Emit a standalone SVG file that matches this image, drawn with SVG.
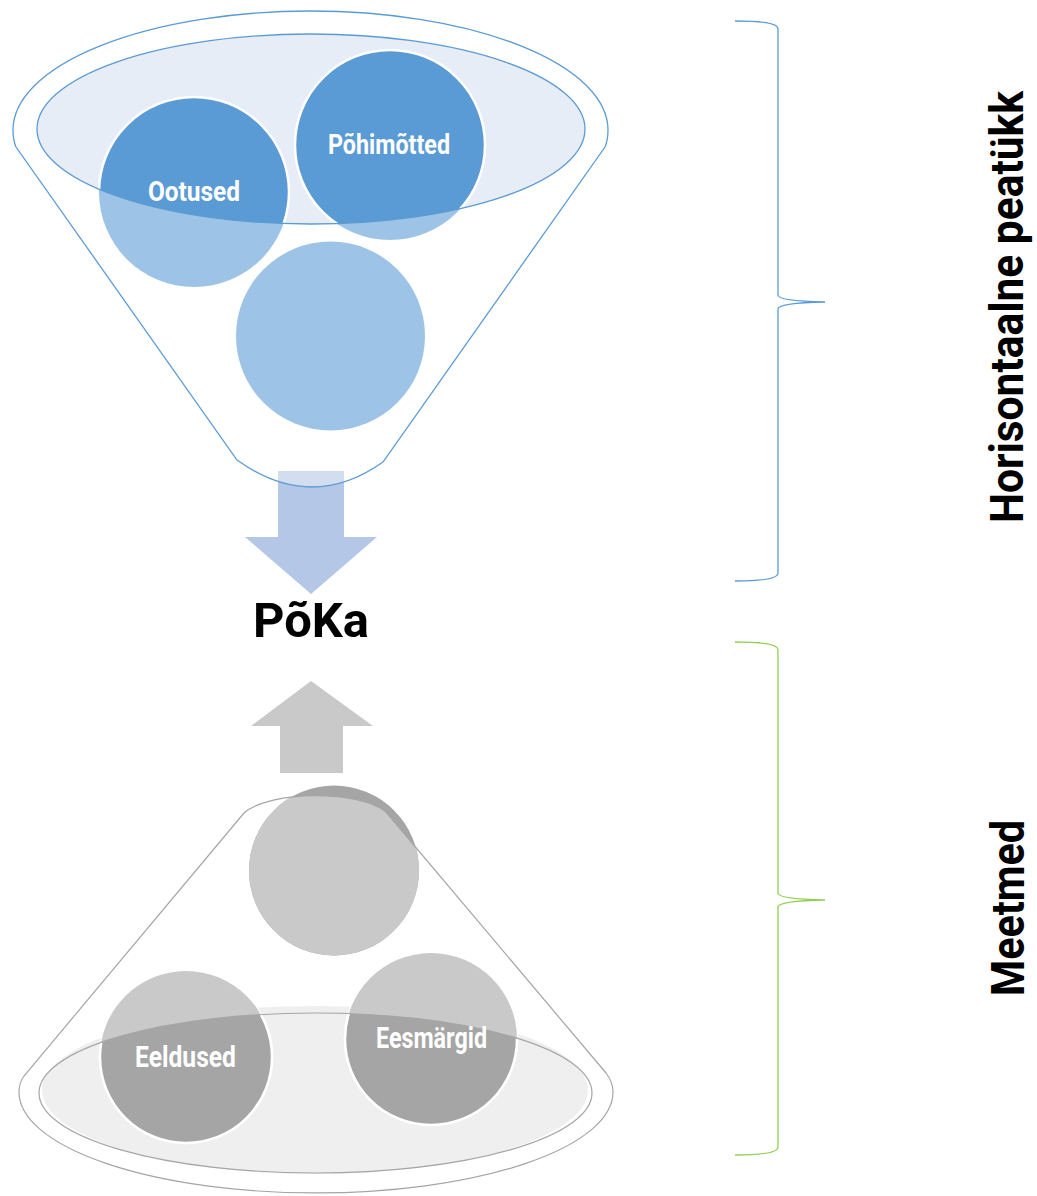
<svg xmlns="http://www.w3.org/2000/svg" width="1037" height="1196" viewBox="0 0 1037 1196">
<style>
.lbl{font-family:"Roboto","Liberation Sans",sans-serif;font-weight:700;fill:#ffffff;text-anchor:middle;}
.big{font-family:"Roboto","Liberation Sans",sans-serif;font-weight:700;fill:#000000;text-anchor:middle;}
.bdark{fill:#5B9BD5;stroke:#ffffff;stroke-width:2.5;}
.blight{fill:#9DC3E6;}
.gdark{fill:#A5A5A5;stroke:#ffffff;stroke-width:2.5;}
.glight{fill:#C9C9C9;}
.brace{fill:none;stroke-width:1.3;}
</style>
<defs>
<clipPath id="topEll"><ellipse cx="311" cy="129" rx="274" ry="95"/></clipPath>
<clipPath id="cone"><path d="M244,813 C270,790 360,790 386,812 L606,1073 Q613,1082 613,1092 A297 101 0 0 1 19 1092 Q19,1083 24,1076 Z"/></clipPath>
<clipPath id="botEll"><ellipse cx="315.5" cy="1093" rx="276.5" ry="80"/></clipPath>
</defs>
<rect width="1037" height="1196" fill="#ffffff"/>

<g id="connectors">
<path id="arrow-down" d="M278,471 L344,471 L344,537 L377,537 L311,594 L245,537 L278,537 Z" fill="#B4C7E7"/>
<path id="arrow-up" d="M311,681 L373,726 L343,726 L343,773 L280,773 L280,726 L251,726 Z" fill="#C9C9C9"/>
<path id="brace-top" class="brace" stroke="#5B9BD5" d="M735,21 Q778,21 778,29 L778,295 Q778,301 825,302 Q778,303 778,309 L778,573 Q778,581 735,581"/>
<path id="brace-bottom" class="brace" stroke="#92D050" d="M735,642 Q778,642 778,650 L778,893 Q778,899 825,900 Q778,901 778,907 L778,1147 Q778,1155 735,1155"/>
</g>

<g id="funnel-top">
<path d="M16,147 Q13,140 13,130 A297.5 119 0 0 1 608 130 Q608,140 605,147 L383,462 Q311,513 237,460 Z" fill="#ffffff" fill-opacity="0.4" stroke="#5B9BD5" stroke-width="1.3"/>
<ellipse cx="311" cy="129" rx="274" ry="95" fill="#E6EDF7"/>
</g>

<g id="node-ootused">
<circle class="blight" cx="194" cy="192" r="95"/>
<circle class="bdark" cx="194" cy="192" r="95" clip-path="url(#topEll)"/>
</g>
<g id="node-pohimotted">
<circle class="blight" cx="390" cy="145" r="95"/>
<circle class="bdark" cx="390" cy="145" r="95" clip-path="url(#topEll)"/>
</g>
<g id="node-top-third">
<circle class="blight" cx="330.5" cy="336" r="94.5"/>
</g>
<ellipse cx="311" cy="129" rx="274" ry="95" fill="none" stroke="#5B9BD5" stroke-width="1.3"/>
<text class="lbl" x="194" y="201" font-size="28" textLength="92" lengthAdjust="spacingAndGlyphs">Ootused</text>
<text class="lbl" x="389" y="154" font-size="28" textLength="122" lengthAdjust="spacingAndGlyphs">Põhimõtted</text>

<g id="node-poka">
<text class="big" x="311" y="637" font-size="48" textLength="116" lengthAdjust="spacingAndGlyphs">PõKa</text>
</g>

<g id="cone-bottom">
<ellipse cx="315" cy="1090" rx="273" ry="84" fill="#EFEFEF"/>
</g>
<g id="node-eeldused">
<circle class="gdark" cx="186" cy="1057" r="86"/>
<circle class="glight" cx="186" cy="1057" r="86" clip-path="url(#cone)"/>
<circle class="gdark" cx="186" cy="1057" r="86" clip-path="url(#botEll)"/>
</g>
<g id="node-eesmargid">
<circle class="gdark" cx="431" cy="1039" r="86"/>
<circle class="glight" cx="431" cy="1039" r="86" clip-path="url(#cone)"/>
<circle class="gdark" cx="431" cy="1039" r="86" clip-path="url(#botEll)"/>
</g>
<g id="node-bottom-top">
<circle fill="#A5A5A5" cx="334" cy="870.5" r="85"/>
<circle class="glight" cx="334" cy="870.5" r="85" clip-path="url(#cone)"/>
</g>
<ellipse cx="315.5" cy="1093" rx="276.5" ry="80" fill="none" stroke="#A5A5A5" stroke-width="1.2"/>
<path d="M244,813 C270,790 360,790 386,812 L606,1073 Q613,1082 613,1092 A297 101 0 0 1 19 1092 Q19,1083 24,1076 Z" fill="none" stroke="#A5A5A5" stroke-width="1.2"/>
<text class="lbl" x="185.5" y="1067" font-size="29" textLength="101" lengthAdjust="spacingAndGlyphs">Eeldused</text>
<text class="lbl" x="431.5" y="1048" font-size="29" textLength="111" lengthAdjust="spacingAndGlyphs">Eesmärgid</text>

<g id="label-horisontaalne">
<text class="big" transform="translate(1023,307) rotate(-90)" font-size="47" textLength="432" lengthAdjust="spacingAndGlyphs">Horisontaalne peatükk</text>
</g>
<g id="label-meetmed">
<text class="big" transform="translate(1024,908) rotate(-90)" font-size="46" textLength="176" lengthAdjust="spacingAndGlyphs">Meetmed</text>
</g>
</svg>
